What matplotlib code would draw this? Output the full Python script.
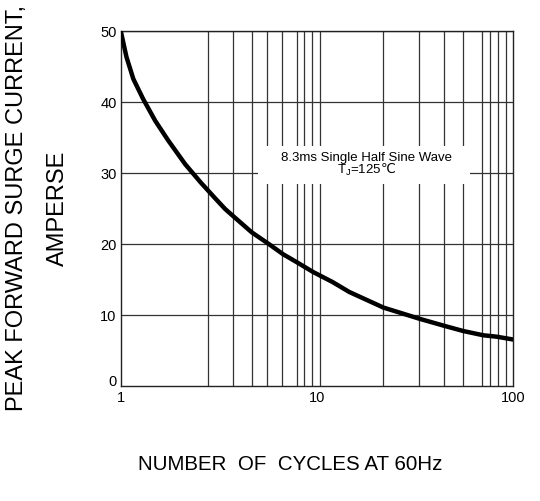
import matplotlib.pyplot as plt
from matplotlib.patches import Rectangle
from matplotlib.ticker import NullLocator
import matplotlib.transforms as mtransforms

plt.rcParams['font.family'] = ['Liberation Sans', 'DejaVu Sans']

# curve (cycles, amps)
cycles = [1.0, 1.07, 1.16, 1.30, 1.50, 1.75, 2.13, 2.56, 3.05, 3.40, 3.70,
          4.65, 5.65, 6.73, 7.88, 9.57, 12.0, 14.6, 21.8, 33.5, 44.9, 55.6,
          70.3, 82.3, 100]
amps = [50, 46.3, 43.2, 40.4, 37.3, 34.5, 31.2, 28.6, 26.3, 24.9, 24.0,
        21.6, 20.0, 18.5, 17.4, 16.0, 14.6, 13.2, 11.0, 9.4, 8.4, 7.7,
        7.1, 6.9, 6.5]

# vertical grid lines as drawn on the reference
grid_x = [2.78, 3.72, 4.65, 5.54, 6.66, 7.88, 8.59, 9.46, 10.35,
          21.6, 33.2, 44.5, 55.6, 69.5, 76.1, 83.9, 91.8]
grid_y = [10, 20, 30, 40, 50]
x_ticks = [1, 10, 100]
y_ticks = [0, 10, 20, 30, 40, 50]

fig = plt.figure(figsize=(5.4, 5.02), dpi=100)
ax = fig.add_axes([0.2235, 0.2297, 0.7271, 0.7072])

ax.set_xscale('log')
ax.set_xlim(1, 100)
ax.set_ylim(0, 50)

for gx in grid_x:
    ax.axvline(gx, color='#333333', lw=0.9, zorder=1)
for gy in grid_y:
    ax.axhline(gy, color='#333333', lw=0.9, zorder=1)

ax.plot(cycles, amps, color='black', lw=3.2, solid_capstyle='butt',
        solid_joinstyle='round', zorder=3)

ax.set_xticks(x_ticks)
ax.set_xticklabels([str(t) for t in x_ticks])
ax.xaxis.set_minor_locator(NullLocator())
ax.set_yticks(y_ticks)
ax.set_yticklabels([str(t) for t in y_ticks])
ax.tick_params(length=0, labelsize=10.5, pad=3)
# the "0" label sits a little above the axis line
lab0 = ax.get_yticklabels()[0]
lab0.set_transform(lab0.get_transform() +
                   mtransforms.ScaledTranslation(0, 6 / 100, fig.dpi_scale_trans))

for sp in ax.spines.values():
    sp.set_linewidth(1.0)
    sp.set_color('#222222')

# white box behind the note, cutting the grid
ax.add_patch(Rectangle((0.35, 0.568), 0.54, 0.107, transform=ax.transAxes,
                       facecolor='white', edgecolor='none', zorder=2))
ax.text(0.625, 0.645, '8.3ms Single Half Sine Wave', transform=ax.transAxes,
        ha='center', va='center', fontsize=9.5, zorder=4)
ax.text(0.625, 0.61, 'T$_\\mathregular{J}$=125$\\mathrm{\u2103}$',
        transform=ax.transAxes, ha='center', va='center', fontsize=9.5,
        zorder=4)

fig.text(0.032, 0.586, 'PEAK FORWARD SURGE CURRENT,', rotation=90,
         ha='center', va='center', fontsize=17)
fig.text(0.108, 0.586, 'AMPERSE', rotation=90, ha='center', va='center',
         fontsize=17)
fig.text(0.537, 0.074, 'NUMBER  OF  CYCLES AT 60Hz', ha='center',
         va='center', fontsize=14.8)

fig.savefig('out.png', dpi=100)
